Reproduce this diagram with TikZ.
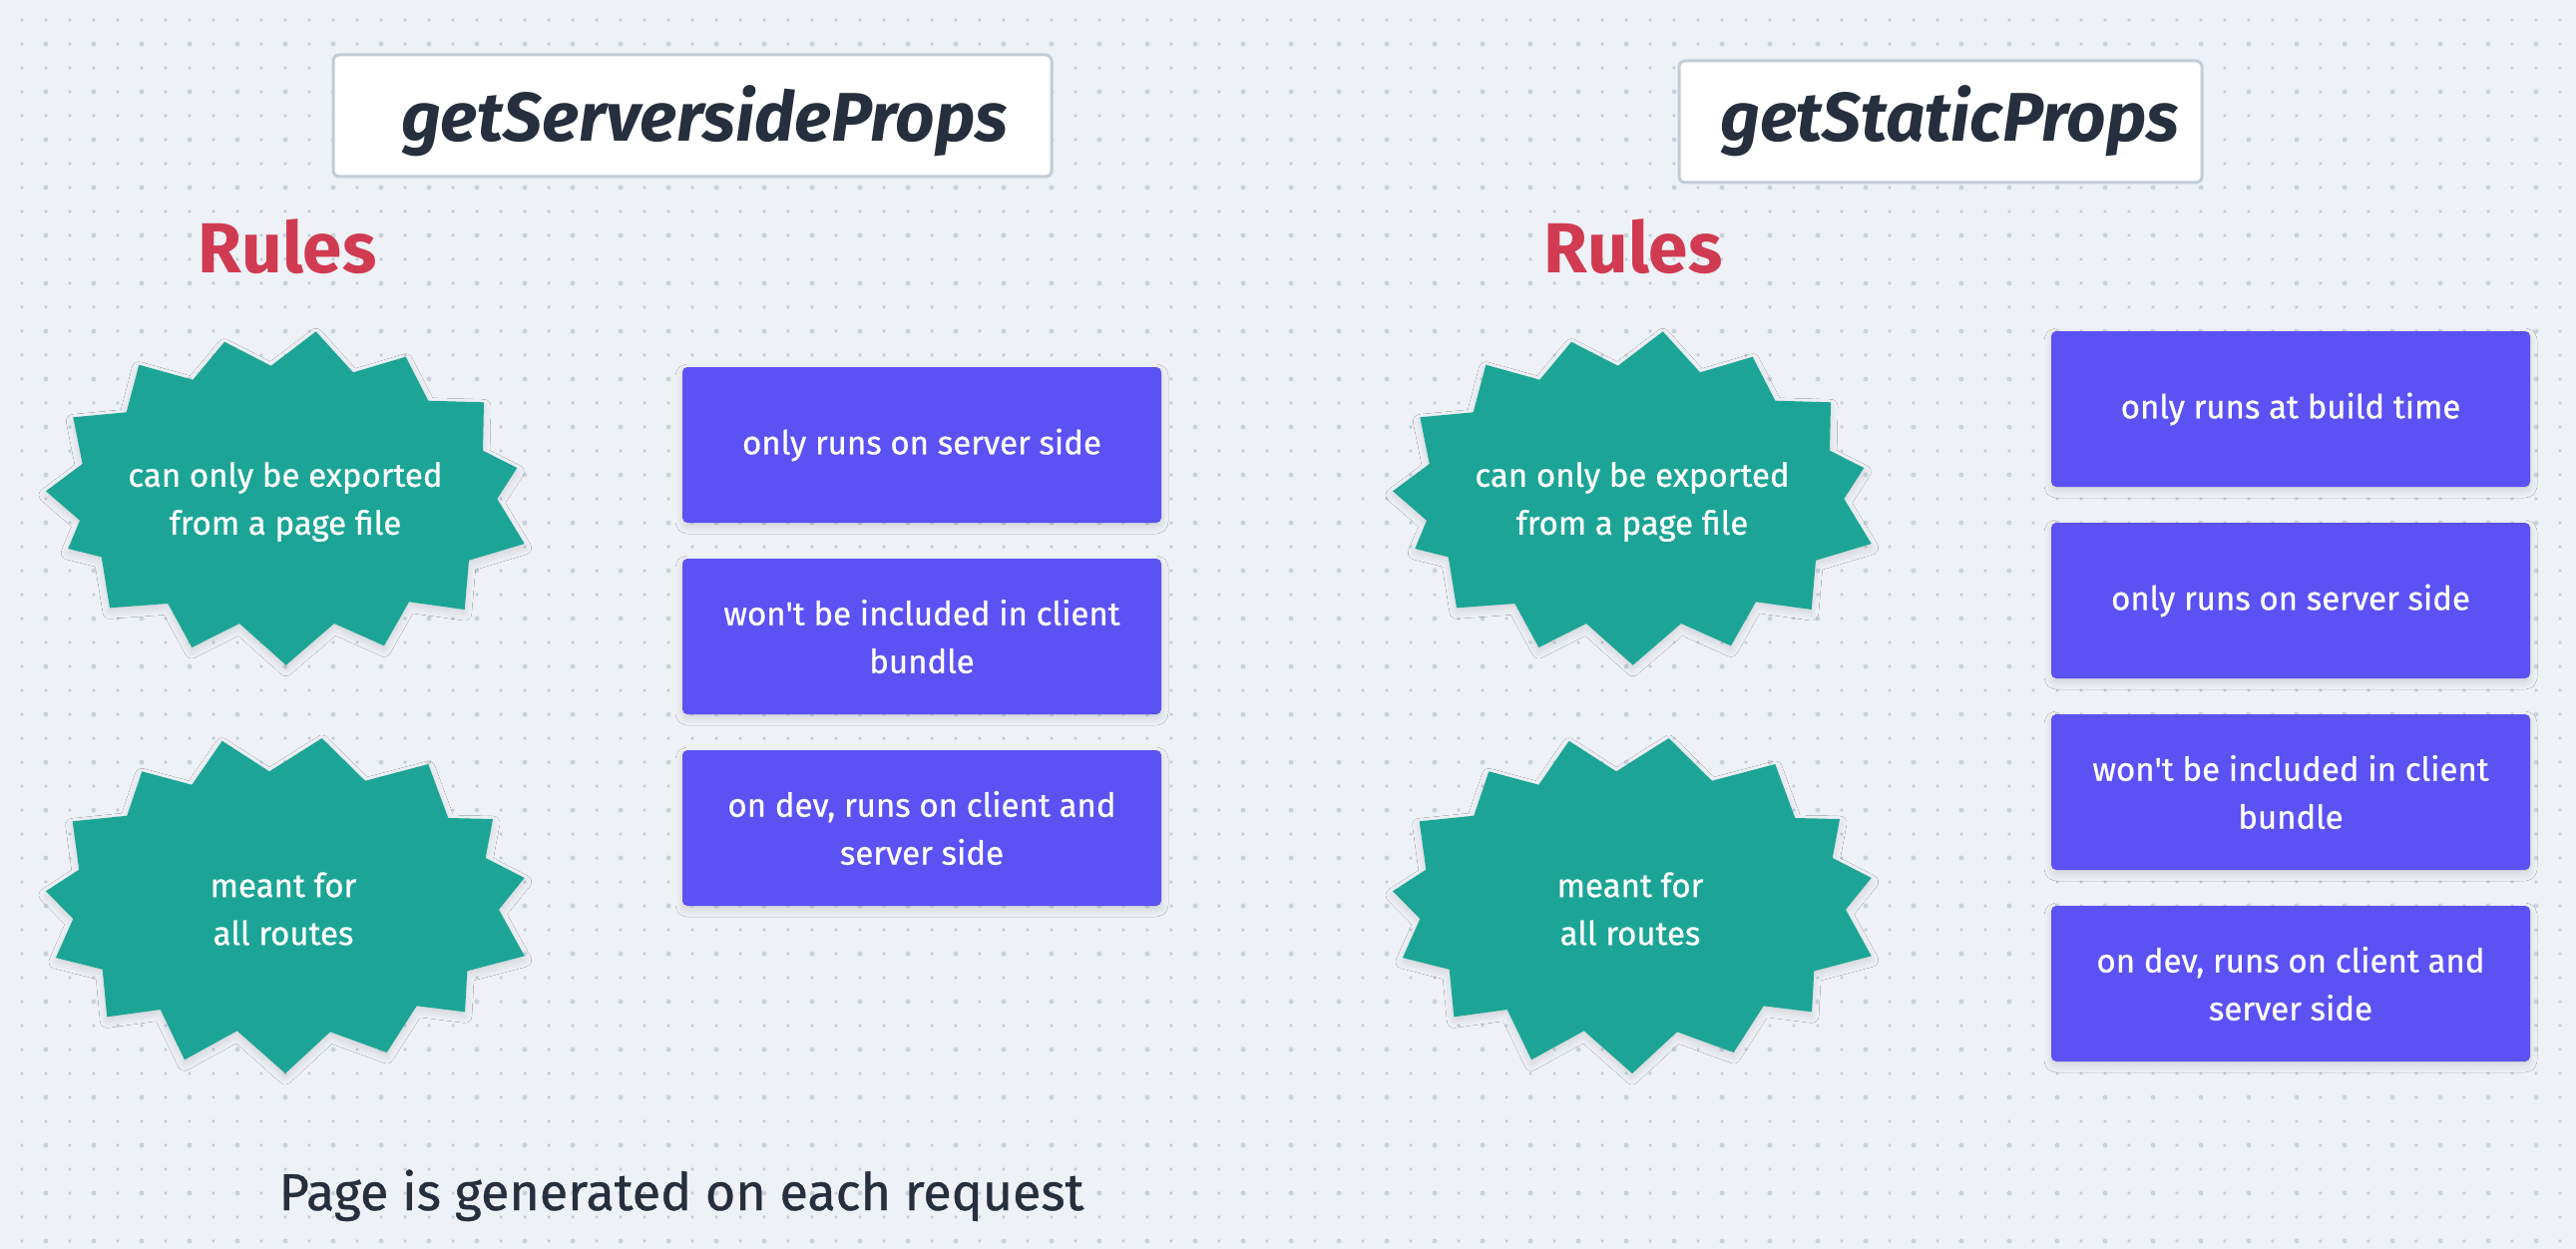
\documentclass[tikz,border=0pt]{standalone}
\usepackage{fontspec}
\setmainfont{Fira Sans}
\newfontfamily\medfont{Fira Sans}[FakeBold=0.7]
\usetikzlibrary{shadows.blur}
\definecolor{bg}{HTML}{EEF1F6}
\definecolor{dotsm}{HTML}{C2CBD6}
\definecolor{dotlg}{HTML}{CAD3DD}
\definecolor{ink}{HTML}{252F3D}
\definecolor{titleborder}{HTML}{C2CCD6}
\definecolor{rulered}{HTML}{D03B52}
\definecolor{starteal}{HTML}{1CA596}
\definecolor{boxpurple}{HTML}{5C51F3}
\newcommand\starshapeA{(316.7,332.3) -- (354,373.3) -- (406.7,357.7) -- (429.3,401.7) -- (485,403.3) -- (484,451.7) -- (518.3,469) -- (498.3,500) -- (525.7,545) -- (470,561.7) -- (465.7,611) -- (410,603.3) -- (385,647.3) -- (335,625) -- (286.7,666.7) -- (240,625) -- (192.3,649) -- (168.3,605) -- (110,609.3) -- (101.7,558.3) -- (68.3,550) -- (80,521.7) -- (46,492.3) -- (82.7,465) -- (73.3,418.3) -- (126.7,413.3) -- (139.3,365.7) -- (193.3,380.7) -- (225,342.7) -- (271.7,366.7) -- cycle}
\newcommand\starshapeB{(322.7,740) -- (366,782.7) -- (429.3,766) -- (449.3,820) -- (494,821) -- (486.7,860) -- (525.7,880) -- (500,911.7) -- (525.7,958.3) -- (468.3,973.3) -- (466,1014.3) -- (417.7,1008.3) -- (387.7,1055) -- (331,1034.3) -- (286,1076) -- (237.7,1033.3) -- (185,1062.3) -- (160.7,1012) -- (107.3,1019.3) -- (102.7,971.7) -- (56,960) -- (73.3,921) -- (46,893.3) -- (79.3,871.7) -- (72.7,823.3) -- (127.3,817.7) -- (142.3,773.3) -- (192.3,786.7) -- (222.7,742.7) -- (270,773.3) -- cycle}
\tikzset{
  softshadow/.style={blur shadow={shadow xshift=0pt, shadow yshift=-4pt, shadow blur radius=7pt, shadow opacity=12}},
  titlebox/.style={draw=titleborder, line width=3pt, fill=white, rounded corners=6pt, minimum height=122pt},
  titletext/.style={anchor=base, text=ink, font=\fontsize{69}{80}\selectfont\bfseries\itshape},
  rulestext/.style={anchor=base, text=rulered, font=\fontsize{71}{80}\selectfont\bfseries},
  starfill/.style={fill=starteal, softshadow},
  startext/.style={text=white, align=center, font=\medfont\fontsize{33}{48}\selectfont},
  rulebox/.style={fill=boxpurple, rounded corners=5pt, minimum width=480pt, minimum height=156pt, text=white, align=center, font=\medfont\fontsize{33}{48}\selectfont, softshadow},
  foottext/.style={anchor=base, text=ink, font=\medfont\fontsize{52}{60}\selectfont}
}
\begin{document}
\begin{tikzpicture}[x=1pt,y=-1pt]
\useasboundingbox (0,0) rectangle (2582,1252);
\fill[bg] (0,0) rectangle (2582,1252);
\fill[dotsm] \foreach \x in {22,46,...,2582} {\foreach \y in {20,44,...,1252} {(\x-1.3,\y-1.3) rectangle (\x+1.3,\y+1.3)}};
\fill[dotlg] \foreach \x in {46,94,...,2582} {\foreach \y in {44,92,...,1252} {(\x,\y) circle (2.5)}};

% titles
\node[titlebox, minimum width=720pt] (t1box) at (694,116) {};
\node[titletext] (t1) at (706,142) {getServersideProps};
\node[titlebox, minimum width=524pt] (t2box) at (1945,122) {};
\node[titletext] (t2) at (1954,142) {getStaticProps};

% Rules headings
\node[rulestext] (r1) at (288,273) {Rules};
\node[rulestext] (r2) at (1637,273) {Rules};

% stars
\fill[starfill] \starshapeA;
\fill[starfill] \starshapeB;
\fill[starfill, shift={(1350,0)}] \starshapeA;
\fill[starfill, shift={(1350,0)}] \starshapeB;
\node[startext] (s1) at (286,503) {can only be exported\\from a page file};
\node[startext] (s2) at (284,911) {meant for\\all routes};
\node[startext] (s3) at (1636,503) {can only be exported\\from a page file};
\node[startext] (s4) at (1634,911) {meant for\\all routes};

% left boxes
\node[rulebox] (lb1) at (924,446) {only runs on server side};
\node[rulebox] (lb2) at (924,638) {won\textquotesingle t be included in client\\bundle};
\node[rulebox] (lb3) at (924,830) {on dev, runs on client and\\server side};

% right boxes
\node[rulebox] (rb1) at (2296,410) {only runs at build time};
\node[rulebox] (rb2) at (2296,602) {only runs on server side};
\node[rulebox] (rb3) at (2296,794) {won\textquotesingle t be included in client\\bundle};
\node[rulebox] (rb4) at (2296,986) {on dev, runs on client and\\server side};

% footer
\node[foottext] (foot) at (683,1213) {Page is generated on each request};
\end{tikzpicture}
\end{document}
